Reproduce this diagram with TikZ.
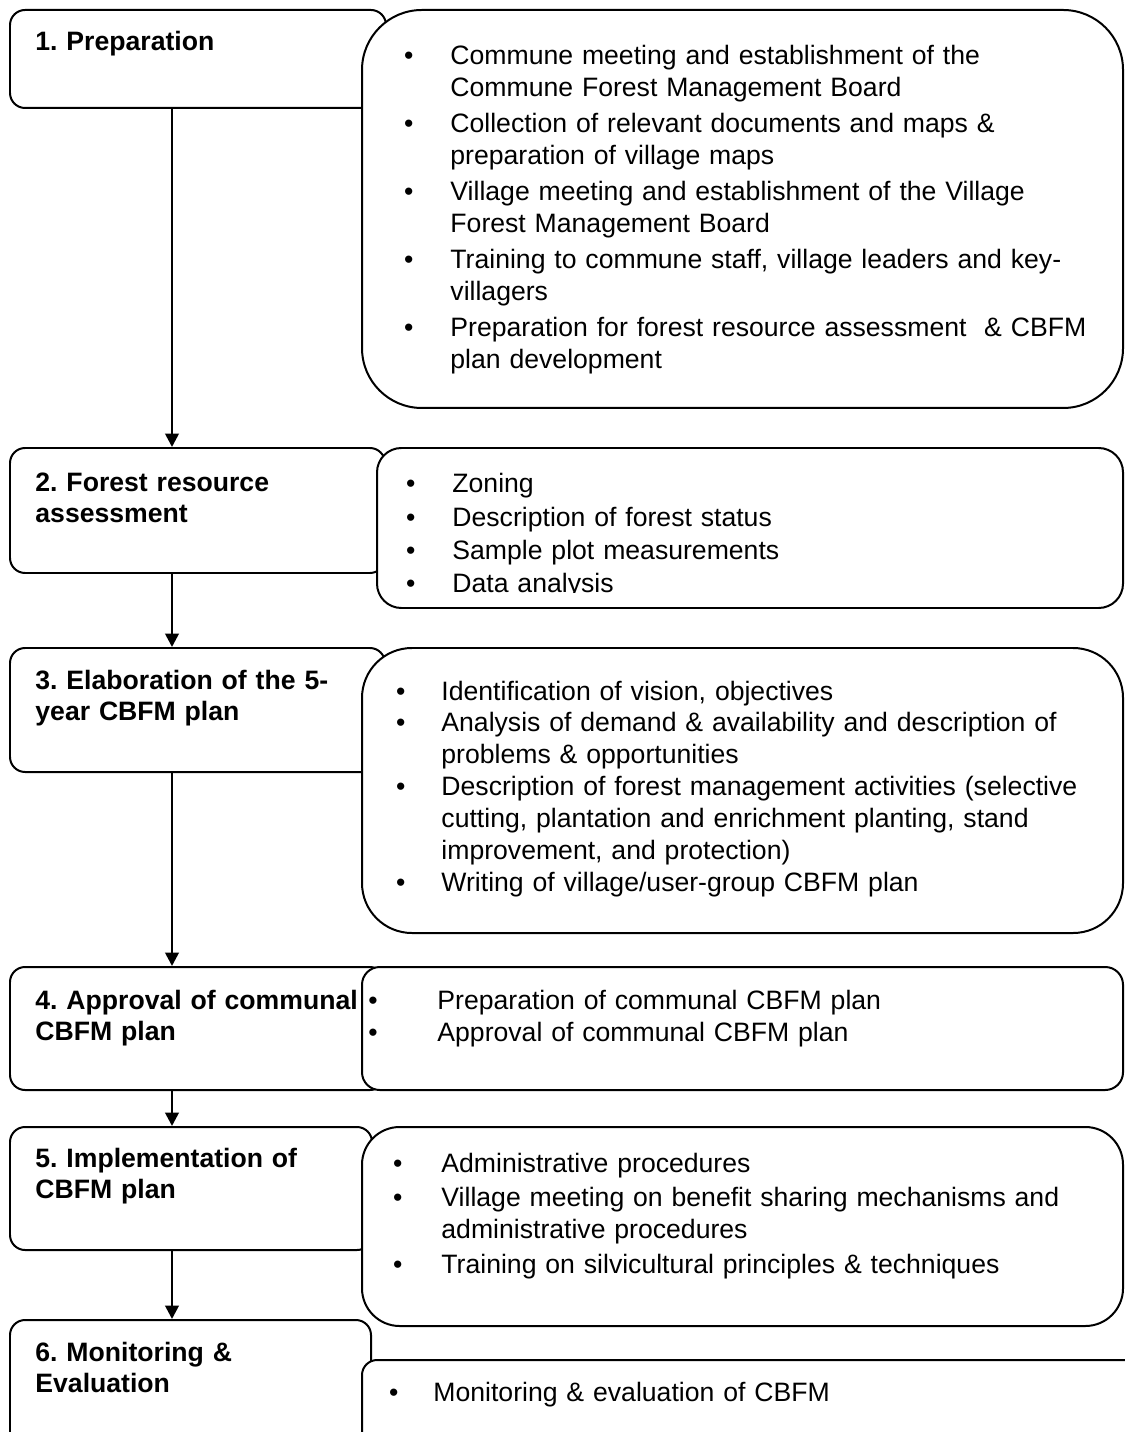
\documentclass[tikz,border=0pt]{standalone}
\usepackage{fontspec}
\setmainfont{Liberation Sans}
\usetikzlibrary{fit,arrows.meta}
\frenchspacing
\newlength\bulgap
\newcommand\bul{\leavevmode\llap{\textbullet\hspace{\bulgap}}}

\begin{document}
\begin{tikzpicture}[
  x=0.451pt, y=-0.451pt,
  stepbox/.style={draw, line width=0.9pt, fill=white, inner sep=0pt, rounded corners=6.8pt},
  taskbox/.style={draw, line width=0.9pt, fill=white, inner sep=0pt, rounded corners=#1},
  lbl/.style={anchor=base west, inner sep=0pt, text width=155pt, align=left, font=\bfseries\fontsize{12pt}{14.2pt}\selectfont},
  tasks/.style={anchor=base west, inner sep=0pt, text width=340pt, align=left,
    font=\fontsize{12pt}{14.43pt}\selectfont, execute at begin node={\setlength\bulgap{#1}}},
  flow/.style={-{Triangle[width=6pt,length=6pt]}, line width=1.2pt}
]

\useasboundingbox (0,0) rectangle (1125,1432);
\fill[white] (0,0) rectangle (1125,1432);
\clip (0,0) rectangle (1125,1432);

\node[stepbox, fit={(10,10) (386,108)}] (p1) {};
\node[lbl] (p1txt) at (35,51) {1. Preparation};
\node[taskbox=27pt, fit={(362,10) (1123,408)}] (t1) {};
\node[tasks=16.7pt] (t1txt) at (450,65) {%
  \bul Commune meeting and establishment of the\\ Commune Forest Management Board\\[1.8pt]
  \bul Collection of relevant documents and maps \&\\ preparation of village maps\\[1.8pt]
  \bul Village meeting and establishment of the Village\\ Forest Management Board\\[1.8pt]
  \bul Training to commune staff, village leaders and key-\\ villagers\\[1.8pt]
  \bul Preparation for forest resource assessment\ \ \& CBFM\\ plan development};

\node[stepbox, fit={(10,448) (385,573)}] (p2) {};
\node[lbl] (p2txt) at (35,491) {2. Forest resource\\ assessment};
\node[taskbox=11pt, fit={(377,448) (1123,608)}] (t2) {};
\begin{scope}
  \clip (377,448) rectangle (1123,592);
  \node[tasks=16.7pt] (t2txt) at (452,493) {%
    \bul Zoning\\[0.5pt]
    \bul Description of forest status\\[0.5pt]
    \bul Sample plot measurements\\[0.5pt]
    \bul Data analysis};
\end{scope}

\node[stepbox, fit={(10,648) (385,772)}] (p3) {};
\node[lbl] (p3txt) at (35,689) {3. Elaboration of the 5-\\ year CBFM plan};
\node[taskbox=22.5pt, fit={(362,648) (1123,933)}] (t3) {};
\node[tasks=16.2pt] (t3txt) at (441,700) {%
  \bul Identification of vision, objectives\\
  \bul Analysis of demand \& availability and description of\\ problems \& opportunities\\
  \bul Description of forest management activities (selective\\ cutting, plantation and enrichment planting, stand\\ improvement, and protection)\\
  \bul Writing of village/user-group CBFM plan};

\node[stepbox, fit={(10,967) (385,1090)}] (p4) {};
\node[lbl] (p4txt) at (35,1009) {4. Approval of communal\\ CBFM plan};
\node[taskbox=8pt, fit={(362,967) (1123,1090)}] (t4) {};
\node[tasks=27pt] (t4txt) at (437,1009) {%
  \bul Preparation of communal CBFM plan\\
  \bul Approval of communal CBFM plan};

\node[stepbox, fit={(10,1127) (372,1250)}] (p5) {};
\node[lbl] (p5txt) at (35,1167) {5. Implementation of\\ CBFM plan};
\node[taskbox=17pt, fit={(362,1127) (1123,1326)}] (t5) {};
\node[tasks=17.6pt] (t5txt) at (441,1172) {%
  \bul Administrative procedures\\[1.3pt]
  \bul Village meeting on benefit sharing mechanisms and\\ administrative procedures\\[1.3pt]
  \bul Training on silvicultural principles \& techniques};

\node[stepbox, fit={(10,1320) (371,1450)}] (p6) {};
\node[lbl] (p6txt) at (35,1361) {6. Monitoring \&\\ Evaluation};
\node[taskbox=6.8pt, fit={(362,1360) (1160,1450)}] (t6) {};
\node[tasks=15.8pt] (t6txt) at (433,1401) {\bul Monitoring \& evaluation of CBFM};

\coordinate (ax) at (172,0);
\draw[flow] (p1.south -| ax) -- (p2.north -| ax);
\draw[flow] (p2.south -| ax) -- (p3.north -| ax);
\draw[flow] (p3.south -| ax) -- (p4.north -| ax);
\draw[flow] (p4.south -| ax) -- (p5.north -| ax);
\draw[flow] (p5.south -| ax) -- (p6.north -| ax);

\end{tikzpicture}
\end{document}
